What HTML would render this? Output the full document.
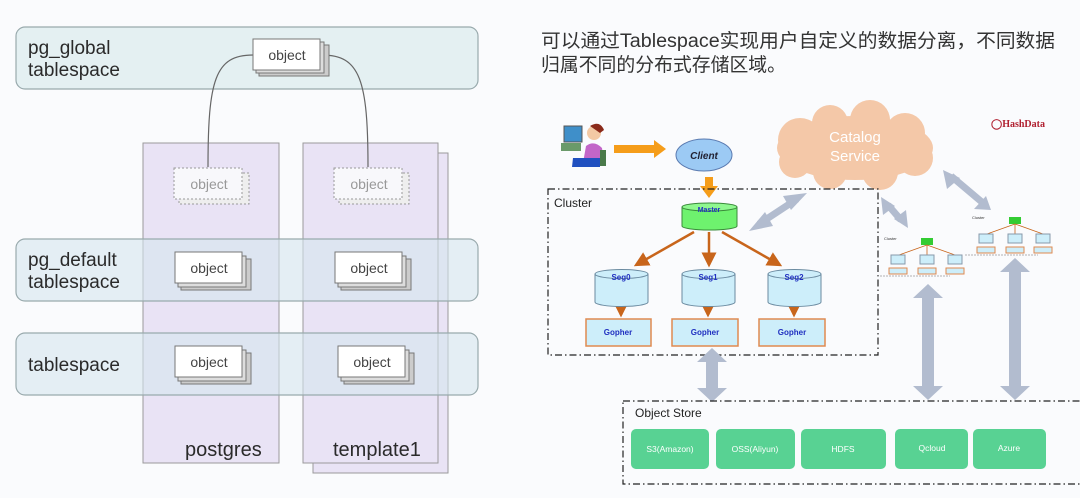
<!DOCTYPE html>
<html><head><meta charset="utf-8">
<style>
html,body{margin:0;padding:0;background:#fafbfd;}
svg{display:block;font-family:"Liberation Sans","Noto Sans CJK SC",sans-serif;}
</style></head><body>
<svg width="1080" height="498" viewBox="0 0 1080 498" xmlns="http://www.w3.org/2000/svg">
<defs>
<marker id="oa" markerWidth="6" markerHeight="6" refX="5" refY="3" orient="auto"><path d="M0,0 L6,3 L0,6 Z" fill="#c8651b"/></marker>
</defs>
<rect width="1080" height="498" fill="#fafbfd"/>

<!-- LEFT DIAGRAM -->
<rect x="313" y="153" width="135" height="320" fill="#e9e3f5" stroke="#9a9a9a" stroke-width="1"/>
<rect x="143" y="143" width="136" height="320" fill="#e9e3f5" stroke="#9a9a9a" stroke-width="1"/>
<rect x="303" y="143" width="135" height="320" fill="#e9e3f5" stroke="#9a9a9a" stroke-width="1"/>
<rect x="16" y="27" width="462" height="62" rx="9" fill="#dfedf0" fill-opacity="0.85" stroke="#99aaad" stroke-width="1.2"/>
<rect x="16" y="239" width="462" height="62" rx="9" fill="#d5e6ee" fill-opacity="0.6" stroke="#99aaad" stroke-width="1.2"/>
<rect x="16" y="333" width="462" height="62" rx="9" fill="#d5e6ee" fill-opacity="0.6" stroke="#99aaad" stroke-width="1.2"/>
<g font-size="19" fill="#2a2a2a">
<text x="28" y="54">pg_global</text><text x="28" y="76">tablespace</text>
<text x="28" y="266">pg_default</text><text x="28" y="288">tablespace</text>
<text x="28" y="371">tablespace</text>
</g>
<g font-size="20" fill="#2a2a2a"><text x="185" y="456">postgres</text><text x="333" y="456">template1</text></g>
<path d="M253,55 C215,55 208,80 208,167" stroke="#666" fill="none" stroke-width="1.2"/>
<path d="M322,55 C360,55 368,80 368,167" stroke="#666" fill="none" stroke-width="1.2"/>
<g font-size="14" fill="#444" text-anchor="middle">
<g><rect x="259" y="45" width="70" height="31" fill="#ccc" stroke="#777"/><rect x="256" y="42" width="68" height="31" fill="#ddd" stroke="#777"/><rect x="253" y="39" width="67" height="31" fill="#fff" stroke="#777"/><text x="287" y="60">object</text></g>
<g><rect x="181" y="259" width="70" height="31" fill="#ccc" stroke="#777"/><rect x="178" y="256" width="68" height="31" fill="#ddd" stroke="#777"/><rect x="175" y="252" width="67" height="31" fill="#fff" stroke="#777"/><text x="209" y="273">object</text></g>
<g><rect x="341" y="259" width="70" height="31" fill="#ccc" stroke="#777"/><rect x="338" y="256" width="68" height="31" fill="#ddd" stroke="#777"/><rect x="335" y="252" width="67" height="31" fill="#fff" stroke="#777"/><text x="369" y="273">object</text></g>
<g><rect x="181" y="353" width="70" height="31" fill="#ccc" stroke="#777"/><rect x="178" y="350" width="68" height="31" fill="#ddd" stroke="#777"/><rect x="175" y="346" width="67" height="31" fill="#fff" stroke="#777"/><text x="209" y="367">object</text></g>
<g><rect x="344" y="353" width="70" height="31" fill="#ccc" stroke="#777"/><rect x="341" y="350" width="68" height="31" fill="#ddd" stroke="#777"/><rect x="338" y="346" width="67" height="31" fill="#fff" stroke="#777"/><text x="372" y="367">object</text></g>
<g><rect x="179" y="173" width="70" height="31" fill="#eee" stroke="#999" stroke-dasharray="2,2"/><rect x="174" y="168" width="68" height="31" fill="#f8f8fb" stroke="#999" stroke-dasharray="2,2"/><text x="209" y="189" fill="#999">object</text></g>
<g><rect x="339" y="173" width="70" height="31" fill="#eee" stroke="#999" stroke-dasharray="2,2"/><rect x="334" y="168" width="68" height="31" fill="#f8f8fb" stroke="#999" stroke-dasharray="2,2"/><text x="369" y="189" fill="#999">object</text></g>
</g>

<!-- RIGHT TEXT -->
<g font-size="19" fill="#333">
<text x="541" y="47" textLength="514" lengthAdjust="spacingAndGlyphs">可以通过Tablespace实现用户自定义的数据分离，不同数据</text>
<text x="541" y="71" textLength="245" lengthAdjust="spacingAndGlyphs">归属不同的分布式存储区域。</text>
</g>

<!-- user icon -->
<rect x="564" y="126" width="18" height="16" fill="#3f8fc9" stroke="#555"/>
<rect x="561" y="143" width="20" height="8" fill="#6a9a6a"/>
<circle cx="594" cy="133" r="7" fill="#f3c9a4"/><path d="M590,126 Q600,120 604,130 L600,133 Z" fill="#8a2a1a"/>
<path d="M583,163 L586,146 Q594,140 602,148 L604,163 Z" fill="#c266c8"/>
<path d="M573,158 L600,158 L600,167 L572,167 Z" fill="#2050c0"/>
<rect x="600" y="150" width="6" height="16" fill="#4a7a4a"/>
<path d="M614,145 L654,145 L654,140 L666,149 L654,158 L654,153 L614,153 Z" fill="#f59d1a"/>
<path d="M705,177 L713,177 L713,186 L718,186 L709,198 L700,186 L705,186 Z" fill="#f59d1a"/>
<ellipse cx="704" cy="155" rx="28" ry="16" fill="#9ccaf4" stroke="#5a7ab0"/>
<text x="704" y="159" font-size="10" font-weight="bold" font-style="italic" text-anchor="middle" fill="#223">Client</text>

<!-- cloud -->
<g fill="#f4c8a8">
<ellipse cx="855" cy="148" rx="78" ry="32"/>
<circle cx="800" cy="140" r="22"/><circle cx="830" cy="123" r="18"/><circle cx="870" cy="120" r="20"/><circle cx="905" cy="133" r="20"/><circle cx="915" cy="158" r="18"/><circle cx="880" cy="172" r="18"/><circle cx="830" cy="172" r="17"/><circle cx="795" cy="162" r="16"/>
</g>
<text x="855" y="142" font-size="15" fill="#fff" text-anchor="middle">Catalog</text>
<text x="855" y="161" font-size="15" fill="#fff" text-anchor="middle">Service</text>
<text x="991" y="127" font-size="10" font-weight="bold" fill="#b02030" font-family="Liberation Serif,serif">◯HashData</text>

<rect x="548" y="189" width="330" height="166" fill="none" stroke="#222" stroke-width="1.2" stroke-dasharray="7,3,1.5,3"/>
<text x="554" y="207" font-size="12" fill="#222">Cluster</text>
<path d="M682,207 L682,226 A27.5,4 0 0 0 737,226 L737,207" fill="#6ef26e" stroke="#3a8a3a"/>
<ellipse cx="709.5" cy="207" rx="27.5" ry="4" fill="#8ff88f" stroke="#3a8a3a"/>
<text x="709" y="212" font-size="7" fill="#2030c0" font-weight="bold" text-anchor="middle">Master</text>
<g stroke="#c8651b" stroke-width="2.5" marker-end="url(#oa)">
<line x1="694" y1="232" x2="636" y2="265"/>
<line x1="709" y1="232" x2="709" y2="265"/>
<line x1="722" y1="232" x2="780" y2="265"/>
<line x1="621" y1="307" x2="621" y2="315"/>
<line x1="708" y1="307" x2="708" y2="315"/>
<line x1="794" y1="307" x2="794" y2="315"/>
</g>
<g fill="#cdeefa" stroke="#6a8aa0">
<path d="M595,274 L595,302 A26.5,4.5 0 0 0 648,302 L648,274"/><ellipse cx="621.5" cy="274" rx="26.5" ry="4.5"/>
<path d="M682,274 L682,302 A26.5,4.5 0 0 0 735,302 L735,274"/><ellipse cx="708.5" cy="274" rx="26.5" ry="4.5"/>
<path d="M768,274 L768,302 A26.5,4.5 0 0 0 821,302 L821,274"/><ellipse cx="794.5" cy="274" rx="26.5" ry="4.5"/>
</g>
<g font-size="8" fill="#2030c0" font-weight="bold" text-anchor="middle">
<text x="621" y="280">Seg0</text><text x="708" y="280">Seg1</text><text x="794" y="280">Seg2</text>
<rect x="586" y="319" width="65" height="27" fill="#cdeefa" stroke="#e08a50" stroke-width="1.5"/>
<rect x="672" y="319" width="66" height="27" fill="#cdeefa" stroke="#e08a50" stroke-width="1.5"/>
<rect x="759" y="319" width="66" height="27" fill="#cdeefa" stroke="#e08a50" stroke-width="1.5"/>
<text x="618" y="335">Gopher</text><text x="705" y="335">Gopher</text><text x="792" y="335">Gopher</text>
</g>

<g id="mc">
<rect x="921" y="238" width="12" height="7" fill="#3c3"/>
<g stroke="#c8651b" stroke-width="0.8"><line x1="927" y1="245" x2="899" y2="255"/><line x1="927" y1="245" x2="927" y2="255"/><line x1="927" y1="245" x2="955" y2="255"/></g>
<g fill="#cdeefa" stroke="#89a"><rect x="891" y="255" width="14" height="9"/><rect x="920" y="255" width="14" height="9"/><rect x="948" y="255" width="14" height="9"/>
<rect x="889" y="268" width="18" height="6" stroke="#e08a50"/><rect x="918" y="268" width="18" height="6" stroke="#e08a50"/><rect x="946" y="268" width="18" height="6" stroke="#e08a50"/></g>
<line x1="877" y1="276" x2="950" y2="276" stroke="#999" stroke-width="0.7" stroke-dasharray="2,1"/>
<text x="884" y="240" font-size="4" fill="#333">Cluster</text>
</g>
<use href="#mc" transform="translate(88,-21)"/>

<g fill="#b2bccf">
<path d="M706,362 L697,362 L712,348 L727,362 L718,362 L718,388 L727,388 L712,402 L697,388 L706,388 Z"/>
<path d="M922,298 L913,298 L928,284 L943,298 L934,298 L934,386 L943,386 L928,400 L913,386 L922,386 Z"/>
<path d="M1009,272 L1000,272 L1015,258 L1030,272 L1021,272 L1021,386 L1030,386 L1015,400 L1000,386 L1009,386 Z"/>
</g>
<g stroke="#b2bccf" stroke-width="7" fill="none"><line x1="759" y1="224" x2="797" y2="199"/><line x1="888" y1="205" x2="901" y2="220"/><line x1="951" y1="176" x2="983" y2="203"/></g>
<g fill="#b2bccf">
<path d="M749,231 L765,212 L773,226 Z"/><path d="M807,193 L783,196 L791,210 Z"/>
<path d="M881,197 L883,215 L895,206 Z"/><path d="M908,228 L894,219 L906,210 Z"/>
<path d="M943,170 L947,189 L960,178 Z"/><path d="M991,210 L974,209 L986,196 Z"/>
</g>

<rect x="623" y="401" width="460" height="83" fill="none" stroke="#222" stroke-width="1.2" stroke-dasharray="7,3,1.5,3"/>
<text x="635" y="417" font-size="12" fill="#222">Object Store</text>
<g fill="#58d293">
<rect x="631" y="429" width="78" height="40" rx="5"/>
<rect x="716" y="429" width="79" height="40" rx="5"/>
<rect x="801" y="429" width="85" height="40" rx="5"/>
<rect x="895" y="429" width="73" height="40" rx="5"/>
<rect x="973" y="429" width="73" height="40" rx="5"/>
</g>
<g font-size="8.5" fill="#fff" text-anchor="middle">
<text x="670" y="452">S3(Amazon)</text><text x="755" y="452">OSS(Aliyun)</text><text x="843" y="452">HDFS</text><text x="932" y="451">Qcloud</text><text x="1009" y="451">Azure</text>
</g>
</svg>
</body></html>
